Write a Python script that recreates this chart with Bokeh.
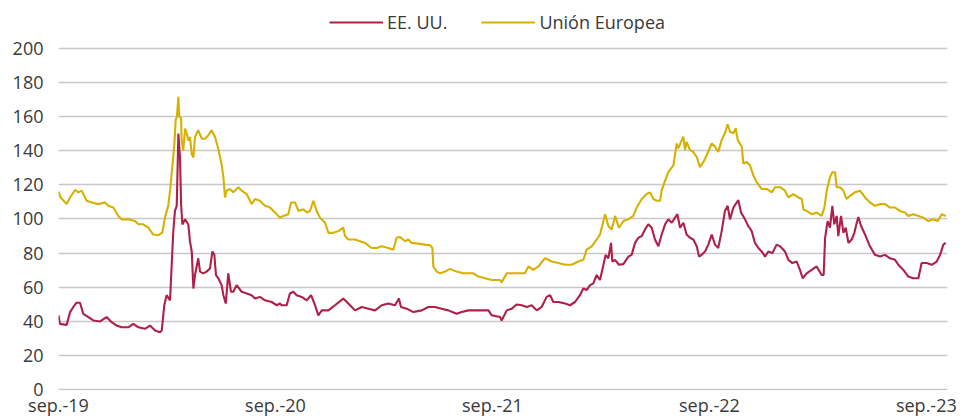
from bokeh.plotting import figure
from bokeh.models import Range1d, FixedTicker, Legend, LegendItem
from bokeh.embed import file_html
from bokeh.resources import INLINE

# months since 1 Sep 2019
ue_t = [0.00, 0.12, 0.45, 0.64, 0.91, 1.10, 1.28, 1.56, 1.83, 2.20, 2.57, 2.76, 3.03, 3.31, 3.49, 3.86, 4.23, 4.42, 4.69, 4.97,
        5.24, 5.52, 5.74, 5.89, 6.07, 6.17, 6.26, 6.41, 6.48, 6.55, 6.63, 6.68, 6.78, 6.81, 6.90, 7.00, 7.09, 7.18, 7.27, 7.37,
        7.46, 7.55, 7.73, 7.92, 8.10, 8.29, 8.47, 8.66, 8.84, 9.02, 9.12, 9.21, 9.30, 9.49, 9.67, 9.95, 10.13, 10.41, 10.68, 10.87,
        11.14, 11.42, 11.70, 11.97, 12.25,
        12.44, 12.71, 12.86, 13.08, 13.27, 13.54, 13.73, 13.91, 14.10, 14.28, 14.46, 14.74, 14.93, 15.20, 15.48, 15.75, 15.85, 16.03,
        16.40, 16.68, 16.95, 17.32, 17.60, 17.88, 18.24, 18.52, 18.70, 18.89, 19.17, 19.35, 19.53, 19.90, 20.27, 20.55, 20.68, 20.73,
        20.92, 21.10, 21.38, 21.65, 22.02, 22.39, 22.67, 22.95, 23.22, 23.59, 23.96, 24.42,
        24.51, 24.79, 25.16, 25.53, 25.80, 25.99, 26.26, 26.54, 26.91, 27.28, 27.65, 28.02, 28.38, 28.75, 29.03, 29.21, 29.49, 29.77,
        29.95, 30.14, 30.23, 30.41, 30.60, 30.78, 31.00, 31.24, 31.52, 31.79, 31.98, 32.26, 32.53, 32.72, 32.90, 33.09, 33.27, 33.36,
        33.55, 33.73, 34.01, 34.19, 34.28, 34.47, 34.56, 34.65, 34.74, 34.93, 35.11, 35.30, 35.48, 35.67, 35.85, 36.13, 36.31,
        36.49, 36.68, 36.86, 37.01, 37.14, 37.33, 37.45, 37.57, 37.79, 37.88, 38.06, 38.25, 38.43, 38.62, 38.89, 39.17, 39.45, 39.63,
        39.91, 40.18, 40.37, 40.64, 40.92, 41.11, 41.20, 41.38, 41.66, 41.93, 42.21, 42.36, 42.49, 42.67, 42.80, 42.95, 43.04, 43.23,
        43.41, 43.59, 43.78, 44.05, 44.33, 44.61, 44.88, 45.16, 45.44, 45.71, 45.99, 46.27, 46.54, 46.82, 47.00, 47.28, 47.56, 47.83,
        48.11, 48.39, 48.63, 48.85, 49.07]
ue_v = [116.0, 112.6, 108.7, 112.6, 117.0, 115.6, 116.6, 110.7, 109.7, 108.7, 109.7, 107.7, 106.7, 101.8, 99.8, 99.8, 98.8, 96.9, 96.9, 94.9,
        90.9, 90.5, 92.0, 100.8, 107.7, 116.6, 126.5, 144.0, 158.0, 160.0, 171.5, 160.0, 159.0, 146.0, 140.0, 153.0, 150.0, 146.0, 148.0, 138.0,
        136.0, 148.0, 152.0, 147.0, 147.0, 149.0, 152.0, 148.0, 141.0, 132.0, 124.5, 112.6, 116.6, 117.6, 115.6, 118.6, 116.6, 114.6, 108.7, 111.7,
        110.7, 107.7, 106.7, 103.8, 100.8,
        101.8, 102.8, 109.7, 109.7, 104.7, 105.7, 103.8, 104.7, 110.7, 104.7, 100.8, 97.8, 91.9, 91.9, 92.9, 94.9, 90.0, 88.0,
        88.0, 87.0, 86.0, 83.0, 83.0, 84.0, 83.0, 82.0, 89.0, 89.5, 87.0, 88.0, 86.0, 85.6, 85.0, 84.6, 83.0, 72.2,
        69.2, 68.2, 69.2, 70.8, 69.2, 68.2, 68.2, 68.2, 66.3, 65.3, 64.3, 64.3,
        62.9, 68.2, 68.2, 68.2, 68.2, 72.2, 70.2, 72.2, 77.1, 75.1, 74.2, 73.2, 73.2, 75.1, 76.1, 82.0, 84.0, 88.0,
        90.9, 98.8, 102.8, 95.9, 93.9, 101.8, 94.9, 98.8, 99.8, 101.8, 106.7, 111.7, 114.6, 115.6, 111.7, 110.7, 110.7, 116.6,
        122.5, 127.4, 131.4, 144.2, 141.3, 146.2, 148.2, 140.3, 145.2, 140.3, 139.3, 136.3, 130.4, 133.4, 137.3, 144.2, 142.3,
        139.3, 146.2, 150.2, 155.5, 151.1, 150.2, 153.1, 146.2, 142.3, 132.4, 133.4, 131.4, 125.5, 121.5, 117.6, 117.6, 115.6, 118.6,
        118.6, 116.6, 112.6, 114.6, 112.6, 111.7, 105.7, 104.7, 102.8, 103.8, 101.8, 106.7, 116.6, 124.5, 127.4, 127.4, 118.6, 118.6,
        116.6, 111.7, 113.6, 115.6, 116.6, 112.6, 109.7, 107.7, 108.7, 108.7, 106.7, 106.7, 104.7, 103.8, 101.8, 102.8, 101.8, 100.8,
        98.8, 99.8, 98.8, 102.8, 101.8]

us_t = [0.00, 0.08, 0.45, 0.64, 0.82, 1.00, 1.19, 1.37, 1.65, 1.93, 2.30, 2.66, 2.94, 3.22, 3.49, 3.86, 4.14, 4.42, 4.78, 5.06,
        5.34, 5.61, 5.71, 5.85, 5.98, 6.17, 6.26, 6.35, 6.44, 6.54, 6.63, 6.72, 6.78, 6.85, 6.90, 7.00, 7.18, 7.27, 7.37, 7.46,
        7.55, 7.73, 7.83, 8.01, 8.19, 8.38, 8.51, 8.62, 8.71, 8.84, 9.02, 9.12, 9.25, 9.39, 9.54, 9.67, 9.85, 10.13, 10.41, 10.68,
        10.87, 11.14, 11.42, 11.79, 12.07, 12.25,
        12.34, 12.62, 12.80, 12.99, 13.17, 13.45, 13.73, 13.97, 14.19, 14.37, 14.56, 14.93, 15.29, 15.75, 16.03, 16.40, 16.77, 17.14,
        17.51, 17.88, 18.24, 18.61, 18.83, 18.94, 19.26, 19.63, 20.09, 20.46, 20.82, 21.19, 21.56, 22.02, 22.30, 22.67, 23.04, 23.41,
        23.78, 23.96, 24.42,
        24.51, 24.79, 25.07, 25.34, 25.62, 25.90, 26.17, 26.45, 26.72, 27.00, 27.19, 27.37, 27.65, 28.02, 28.29, 28.57, 28.84, 29.03,
        29.21, 29.40, 29.58, 29.77, 29.95, 30.14, 30.26, 30.41, 30.56, 30.63, 30.78, 31.00, 31.24, 31.52, 31.70, 31.89, 32.07, 32.26,
        32.44, 32.62, 32.81, 32.99, 33.18, 33.36, 33.55, 33.73, 33.92, 34.10, 34.23, 34.38, 34.56, 34.74, 34.93, 35.11, 35.30, 35.43,
        35.57, 35.76, 35.94, 36.13, 36.31,
        36.49, 36.68, 36.86, 37.01, 37.14, 37.33, 37.45, 37.60, 37.75, 37.97, 38.15, 38.34, 38.52, 38.71, 38.89, 39.08, 39.26, 39.48,
        39.72, 39.91, 40.18, 40.37, 40.59, 40.83, 41.01, 41.16, 41.38, 41.66, 41.93, 42.21, 42.32, 42.40, 42.54, 42.67, 42.80, 42.91,
        43.04, 43.13, 43.28, 43.41, 43.54, 43.69, 43.87, 44.02, 44.15, 44.24, 44.39, 44.61, 44.88, 45.16, 45.44, 45.71, 45.99, 46.27,
        46.45, 46.73, 47.00, 47.28, 47.56, 47.74, 48.02, 48.30, 48.57, 48.76, 48.94, 49.07]
us_v = [43.6, 38.6, 38.0, 45.5, 48.5, 51.0, 51.0, 44.5, 42.6, 40.6, 40.0, 42.6, 39.6, 37.6, 36.6, 36.6, 38.6, 36.6, 35.7, 37.6,
        34.7, 33.7, 34.7, 49.5, 55.4, 52.4, 73.0, 93.0, 104.7, 107.7, 150.0, 136.0, 108.7, 96.8, 97.8, 99.8, 96.8, 87.0, 81.0, 59.3,
        67.2, 77.0, 69.2, 68.2, 69.2, 71.0, 81.0, 79.0, 67.2, 65.3, 61.3, 55.4, 50.5, 68.2, 57.4, 57.4, 61.3, 57.4, 56.4, 55.4,
        53.4, 54.4, 52.4, 51.4, 49.5, 50.5,
        49.5, 49.5, 56.4, 57.4, 55.4, 54.4, 52.4, 55.4, 49.5, 43.6, 46.5, 46.5, 49.5, 53.4, 50.5, 46.5, 48.5, 47.5,
        46.5, 49.5, 50.5, 49.5, 53.4, 48.5, 47.5, 45.5, 46.5, 48.5, 48.5, 47.5, 46.5, 44.5, 45.5, 46.5, 46.5, 46.5,
        46.5, 43.6, 42.6,
        40.6, 46.5, 47.5, 49.9, 49.5, 48.5, 49.5, 46.5, 48.5, 54.4, 55.4, 51.4, 51.4, 50.5, 49.5, 51.4, 55.4, 59.3,
        58.4, 61.3, 62.3, 67.2, 64.3, 73.2, 79.0, 77.0, 86.0, 75.1, 76.1, 73.2, 73.6, 78.0, 79.0, 86.0, 89.0, 90.0,
        93.9, 96.9, 94.9, 88.0, 84.0, 90.9, 96.9, 99.8, 97.8, 100.8, 102.8, 94.9, 97.8, 90.9, 89.0, 88.0, 84.0, 78.0,
        79.0, 81.0, 85.0, 90.9, 85.0,
        83.0, 92.9, 104.7, 107.7, 99.8, 106.7, 108.7, 111.0, 103.8, 99.8, 95.9, 92.9, 86.0, 83.0, 81.0, 78.0, 81.0, 80.0,
        85.0, 84.0, 81.0, 76.1, 74.2, 75.1, 70.2, 65.3, 68.2, 70.2, 72.2, 67.2, 67.2, 89.0, 98.8, 94.9, 107.7, 96.9,
        101.8, 90.0, 101.8, 91.9, 94.9, 86.0, 88.0, 91.9, 97.8, 101.2, 95.9, 90.9, 84.0, 79.0, 78.0, 79.0, 77.0, 76.1,
        73.2, 70.2, 66.3, 65.3, 65.3, 74.2, 74.2, 73.2, 75.1, 79.0, 85.0, 86.0]

tick_pos = [0, 12, 24, 36, 48]
tick_labels = ["sep.-19", "sep.-20", "sep.-21", "sep.-22", "sep.-23"]
y_ticks = list(range(0, 201, 20))
series_names = ["EE. UU.", "Unión Europea"]
series_colors = ["#AE2049", "#D6B100"]

FONT = "Open Sans"
TXT = "#3a3a3a"

p = figure(width=962, height=419, output_backend="svg", toolbar_location=None,
           x_range=Range1d(0, 49.17), y_range=Range1d(-0.41, 222.07),
           min_border_left=58, min_border_right=15, min_border_top=10, min_border_bottom=29)
p.outline_line_color = None
p.background_fill_color = "white"
p.border_fill_color = "white"

r_ue = p.line(ue_t, ue_v, line_color=series_colors[1], line_width=2.1)
r_us = p.line(us_t, us_v, line_color=series_colors[0], line_width=2.1)

p.xgrid.grid_line_color = None
p.ygrid.grid_line_color = "#c8c8c8"
p.ygrid.grid_line_width = 1.6
p.yaxis.ticker = FixedTicker(ticks=y_ticks)
p.xaxis.ticker = FixedTicker(ticks=tick_pos)
p.xaxis.major_label_overrides = {t: l for t, l in zip(tick_pos, tick_labels)}

for ax in (p.xaxis[0], p.yaxis[0]):
    ax.axis_line_color = None
    ax.major_tick_line_color = None
    ax.minor_tick_line_color = None
    ax.major_tick_out = 0
    ax.major_tick_in = 0
    ax.major_label_text_font = FONT
    ax.major_label_text_font_size = "18px"
    ax.major_label_text_color = TXT
p.yaxis.major_label_standoff = 15
p.xaxis.major_label_standoff = 2

legend = Legend(items=[LegendItem(label=series_names[0], renderers=[r_us]),
                       LegendItem(label=series_names[1], renderers=[r_ue])],
                orientation="horizontal", location=(271, 356))
legend.border_line_color = None
legend.background_fill_alpha = 0
legend.label_text_font = FONT
legend.label_text_font_size = "18px"
legend.label_text_color = TXT
legend.glyph_width = 54
legend.glyph_height = 18
legend.label_height = 18
legend.label_standoff = 4
legend.spacing = 34
legend.padding = 0
legend.margin = 0
p.add_layout(legend, "center")

open("out.html", "w").write(file_html(p, INLINE))
